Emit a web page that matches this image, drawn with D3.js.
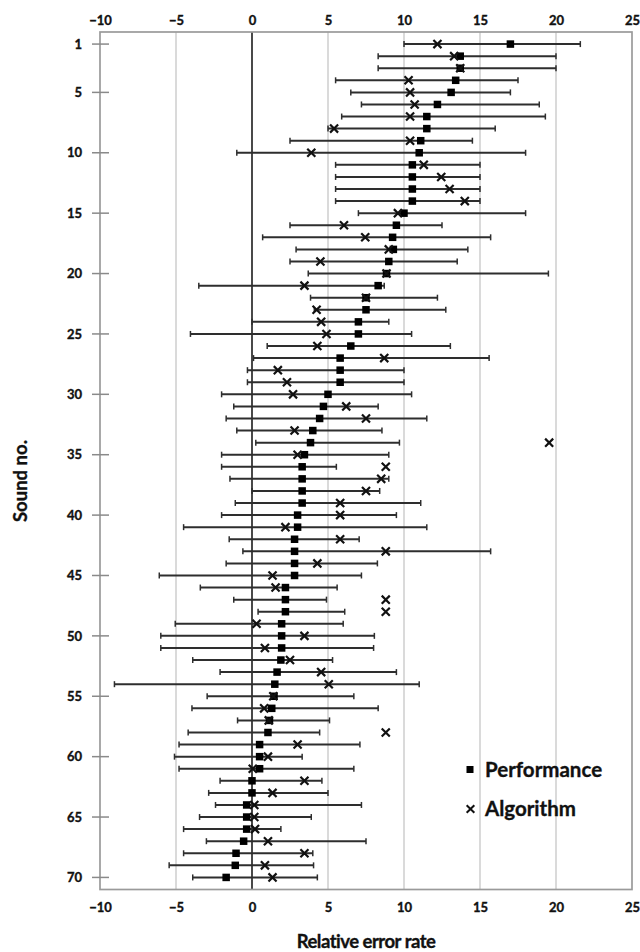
<!DOCTYPE html>
<html>
<head>
<meta charset="utf-8">
<script src="https://cdn.jsdelivr.net/npm/d3@7"></script>
<style>
  html, body { margin: 0; padding: 0; background: #fff; }
  svg { display: block; }
  text { font-family: Lato, "Open Sans", sans-serif; font-weight: 700; fill: #111; stroke: #111; stroke-width: 0.35; }
</style>
</head>
<body>
<script>
// ---- data ----
const sounds = d3.range(1, 71);
const performance = [17.0,13.7,13.7,13.4,13.1,12.2,11.5,11.5,11.1,11.0,
  10.55,10.55,10.55,10.55,10.0,9.5,9.25,9.3,9.0,8.85,
  8.3,7.5,7.5,7.0,7.0,6.5,5.8,5.8,5.8,5.0,
  4.7,4.45,4.0,3.85,3.45,3.3,3.3,3.3,3.3,3.0,
  3.0,2.8,2.8,2.8,2.8,2.2,2.2,2.2,1.95,1.95,
  1.95,1.9,1.65,1.5,1.45,1.3,1.15,1.05,0.5,0.5,
  0.5,0.0,0.0,-0.35,-0.35,-0.35,-0.55,-1.05,-1.1,-1.7];
const errLow = [10.0,8.3,8.3,5.5,6.5,7.2,5.9,5.0,2.5,-1.0,
  5.5,5.5,5.5,5.5,7.0,2.5,0.7,2.9,2.5,3.7,
  -3.5,3.85,4.1,0.0,-4.05,1.0,0.1,-0.3,-0.3,-2.0,
  -1.2,-1.7,-1.0,0.25,-2.0,-2.0,-1.45,0.0,-1.1,-2.0,
  -4.5,-1.5,-0.6,-1.7,-6.1,-3.4,-1.2,0.4,-5.05,-6.0,
  -6.0,-3.9,-2.1,-9.05,-2.95,-3.95,-0.95,-4.2,-4.8,-5.1,
  -4.8,-2.1,-2.85,-2.4,-3.45,-4.5,-3.0,-4.5,-5.45,-3.9];
const errHigh = [21.6,20.0,20.0,17.5,17.0,18.9,19.3,16.0,14.5,18.0,
  15.0,15.0,15.0,15.0,18.0,12.5,15.7,14.2,13.5,19.5,
  8.7,12.2,12.75,9.0,10.5,13.05,15.6,10.0,10.0,10.5,
  8.3,11.5,8.55,9.7,9.0,5.55,9.0,8.4,11.1,9.5,
  11.5,7.05,15.7,8.25,7.2,5.6,4.9,6.1,6.0,8.05,
  8.0,5.3,9.5,11.0,6.7,8.3,5.1,4.45,7.1,3.3,
  6.7,4.6,5.0,7.2,3.9,1.9,7.5,4.0,4.05,4.3];
const algorithm = [12.2,13.3,13.7,10.3,10.4,10.7,10.4,5.4,10.4,3.9,
  11.3,12.45,13.0,14.0,9.6,6.05,7.45,9.0,4.5,8.85,
  3.45,7.5,4.25,4.55,4.9,4.3,8.7,1.7,2.3,2.7,
  6.2,7.5,2.8,19.55,3.0,8.8,8.5,7.5,5.8,5.8,
  2.2,5.8,8.8,4.3,1.35,1.55,8.8,8.8,0.3,3.45,
  0.85,2.5,4.55,5.05,1.4,0.8,1.1,8.8,3.0,1.05,
  0.05,3.45,1.35,0.15,0.15,0.2,1.05,3.45,0.85,1.35];
const xTicks = [-10,-5,0,5,10,15,20,25];
const yTicks = [1,5,10,15,20,25,30,35,40,45,50,55,60,65,70];
const legendLabels = ["Performance", "Algorithm"];
const xTitle = "Relative error rate";
const yTitle = "Sound no.";

const rows = sounds.map((s, i) => ({
  s, perf: performance[i], lo: errLow[i], hi: errHigh[i], alg: algorithm[i]
}));

// ---- layout ----
const W = 640, H = 952;
const L = 100, R = 632, T = 32, B = 889.5;

const svg = d3.select("body").append("svg").attr("width", W).attr("height", H);

const x = d3.scaleLinear().domain([-10, 25]).range([L, R]);
const y = d3.scaleLinear().domain([0, 71]).range([T, B]);

// grid lines
svg.append("g").selectAll("line")
  .data(xTicks.filter(t => t !== -10 && t !== 25 && t !== 0))
  .join("line")
  .attr("x1", d => x(d)).attr("x2", d => x(d))
  .attr("y1", T).attr("y2", B)
  .attr("stroke", "#c6c6c6").attr("stroke-width", 1.3);

// zero line
svg.append("line")
  .attr("x1", x(0)).attr("x2", x(0)).attr("y1", T).attr("y2", B)
  .attr("stroke", "#2a2a2a").attr("stroke-width", 1.7);

// frame
svg.append("rect")
  .attr("x", L).attr("y", T).attr("width", R - L).attr("height", B - T)
  .attr("fill", "none").attr("stroke", "#9a9a9a").attr("stroke-width", 1.7);

const fmt = d3.format("d");
function styleAxis(g) {
  g.select(".domain").remove();
  g.selectAll(".tick line").remove();
  g.selectAll("text").attr("font-size", 13).attr("font-family", "Lato, sans-serif")
    .attr("font-weight", 700).attr("fill", "#111");
}

// top axis labels
const gTop = svg.append("g").attr("transform", `translate(0,${T - 7})`)
  .call(d3.axisTop(x).tickValues(xTicks).tickSize(0).tickPadding(0).tickFormat(fmt));
styleAxis(gTop);

// bottom axis labels
const gBot = svg.append("g").attr("transform", `translate(0,${B + 13})`)
  .call(d3.axisBottom(x).tickValues(xTicks).tickSize(0).tickPadding(0).tickFormat(fmt));
styleAxis(gBot);

// left axis labels
const gLeft = svg.append("g").attr("transform", `translate(${L - 18},0)`)
  .call(d3.axisLeft(y).tickValues(yTicks).tickSize(0).tickPadding(0).tickFormat(fmt));
styleAxis(gLeft);
svg.append("g").selectAll("line").data(yTicks).join("line")
  .attr("x1", L - 8).attr("x2", L + 9)
  .attr("y1", d => y(d)).attr("y2", d => y(d))
  .attr("stroke", "#8a8a8a").attr("stroke-width", 1.5);

// error bars
const gBars = svg.append("g").attr("stroke", "#2e2e2e").attr("fill", "none");
gBars.selectAll("line.bar").data(rows).join("line").attr("class", "bar")
  .attr("x1", d => x(d.lo)).attr("x2", d => x(d.hi))
  .attr("y1", d => y(d.s)).attr("y2", d => y(d.s))
  .attr("stroke-width", 2);
gBars.selectAll("line.capl").data(rows).join("line").attr("class", "capl")
  .attr("x1", d => x(d.lo)).attr("x2", d => x(d.lo))
  .attr("y1", d => y(d.s) - 3).attr("y2", d => y(d.s) + 3)
  .attr("stroke-width", 1.5);
gBars.selectAll("line.caph").data(rows).join("line").attr("class", "caph")
  .attr("x1", d => x(d.hi)).attr("x2", d => x(d.hi))
  .attr("y1", d => y(d.s) - 3).attr("y2", d => y(d.s) + 3)
  .attr("stroke-width", 1.5);

// performance squares
const sq = 7.5;
svg.append("g").selectAll("rect").data(rows).join("rect")
  .attr("x", d => x(d.perf) - sq / 2).attr("y", d => y(d.s) - sq / 2)
  .attr("width", sq).attr("height", sq).attr("fill", "#000");

// algorithm crosses
const xs = d3.symbol().type(d3.symbolX).size(44);
svg.append("g").selectAll("path").data(rows).join("path")
  .attr("transform", d => `translate(${x(d.alg)},${y(d.s)})`)
  .attr("d", xs).attr("fill", "none").attr("stroke", "#111").attr("stroke-width", 2.2);

// legend
const lg = svg.append("g");
lg.append("rect").attr("x", 470 - 3.5).attr("y", 769.5 - 3.5).attr("width", 7).attr("height", 7).attr("fill", "#000");
lg.append("text").attr("x", 485).attr("y", 777).attr("font-size", 20.5).text(legendLabels[0]);
lg.append("path").attr("transform", "translate(470.5,809)").attr("d", d3.symbol().type(d3.symbolX).size(40))
  .attr("fill", "none").attr("stroke", "#111").attr("stroke-width", 2);
lg.append("text").attr("x", 485).attr("y", 815.5).attr("font-size", 20.5).text(legendLabels[1]);

// titles
svg.append("text").attr("x", (L + R) / 2).attr("y", 948).attr("text-anchor", "middle")
  .attr("font-size", 18.5).attr("letter-spacing", -0.5).text(xTitle);
svg.append("text").attr("transform", "translate(27,481) rotate(-90)").attr("text-anchor", "middle")
  .attr("font-size", 18.5).text(yTitle);
</script>
</body>
</html>
